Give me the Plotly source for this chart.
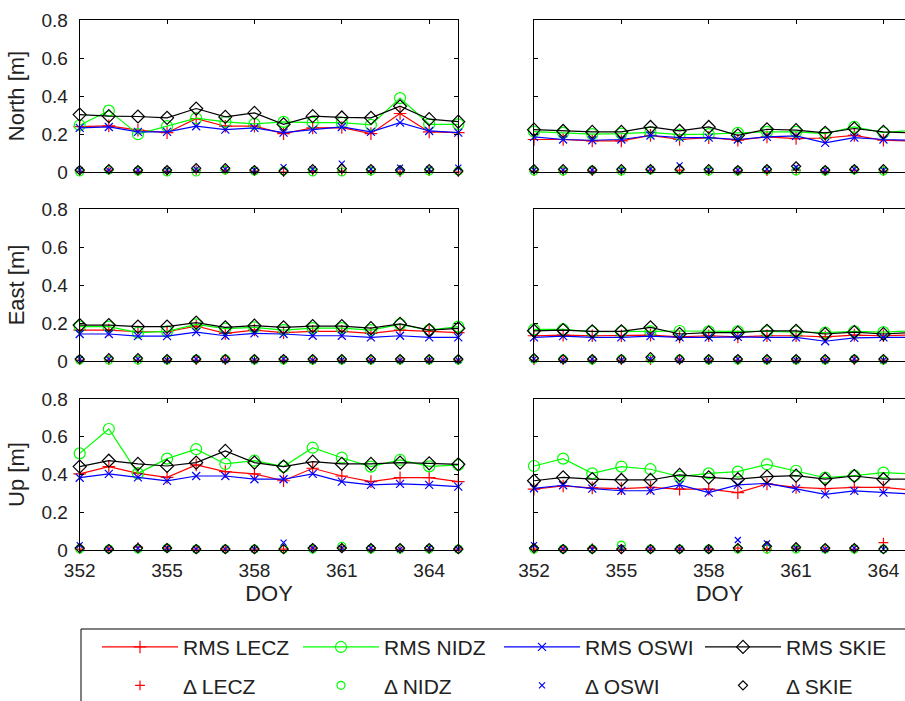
import plotly.graph_objects as go

W, H = 905, 701
days = list(range(352, 366))

# ---------------- North ----------------
N_L_RMS_LECZ = [0.239, 0.243, 0.220, 0.207, 0.281, 0.241, 0.241, 0.202, 0.232, 0.234, 0.202, 0.308, 0.211, 0.207]
N_L_RMS_NIDZ = [0.246, 0.323, 0.199, 0.241, 0.283, 0.264, 0.253, 0.264, 0.260, 0.260, 0.248, 0.389, 0.251, 0.251]
N_L_RMS_OSWI = [0.232, 0.237, 0.211, 0.211, 0.241, 0.223, 0.232, 0.207, 0.223, 0.237, 0.211, 0.260, 0.216, 0.207]
N_L_RMS_SKIE = [0.302, 0.294, 0.292, 0.285, 0.334, 0.290, 0.311, 0.251, 0.294, 0.287, 0.285, 0.346, 0.278, 0.265]
N_L_D_LECZ = [0.005, 0.010, 0.005, 0.005, 0.010, 0.010, 0.005, 0.000, 0.005, 0.005, 0.005, 0.000, 0.005, 0.000]
N_L_D_NIDZ = [0.000, 0.010, 0.005, 0.000, 0.000, 0.010, 0.005, 0.005, 0.000, 0.000, 0.005, 0.005, 0.005, 0.005]
N_L_D_OSWI = [0.010, 0.010, 0.010, 0.010, 0.015, 0.015, 0.010, 0.026, 0.015, 0.044, 0.015, 0.023, 0.015, 0.023]
N_L_D_SKIE = [0.010, 0.015, 0.010, 0.010, 0.020, 0.020, 0.010, 0.005, 0.015, 0.018, 0.015, 0.010, 0.015, 0.005]

N_R_RMS_LECZ = [0.171, 0.171, 0.164, 0.164, 0.193, 0.171, 0.181, 0.167, 0.185, 0.176, 0.179, 0.193, 0.167, 0.162]
N_R_RMS_NIDZ = [0.213, 0.206, 0.199, 0.202, 0.209, 0.197, 0.199, 0.206, 0.211, 0.211, 0.202, 0.237, 0.207, 0.220]
N_R_RMS_OSWI = [0.185, 0.171, 0.167, 0.171, 0.192, 0.181, 0.181, 0.171, 0.185, 0.190, 0.153, 0.181, 0.171, 0.167]
N_R_RMS_SKIE = [0.223, 0.216, 0.211, 0.211, 0.237, 0.216, 0.237, 0.193, 0.225, 0.220, 0.206, 0.229, 0.211, 0.206]
N_R_D_LECZ = [0.005, 0.005, 0.005, 0.005, 0.010, 0.010, 0.005, 0.005, 0.005, 0.010, 0.005, 0.010, 0.005, 0.005]
N_R_D_NIDZ = [0.005, 0.005, 0.010, 0.005, 0.010, 0.010, 0.005, 0.005, 0.010, 0.005, 0.005, 0.010, 0.005, 0.005]
N_R_D_OSWI = [0.010, 0.010, 0.010, 0.010, 0.015, 0.035, 0.010, 0.010, 0.015, 0.025, 0.010, 0.015, 0.010, 0.010]
N_R_D_SKIE = [0.015, 0.015, 0.010, 0.015, 0.015, 0.015, 0.015, 0.010, 0.015, 0.030, 0.010, 0.015, 0.015, 0.010]

# ---------------- East ----------------
E_L_RMS_LECZ = [0.163, 0.163, 0.154, 0.154, 0.184, 0.145, 0.163, 0.149, 0.156, 0.156, 0.145, 0.163, 0.156, 0.149]
E_L_RMS_NIDZ = [0.181, 0.181, 0.149, 0.156, 0.193, 0.170, 0.177, 0.163, 0.173, 0.173, 0.163, 0.193, 0.163, 0.181]
E_L_RMS_OSWI = [0.142, 0.142, 0.131, 0.131, 0.152, 0.133, 0.145, 0.142, 0.133, 0.133, 0.124, 0.133, 0.124, 0.124]
E_L_RMS_SKIE = [0.189, 0.189, 0.181, 0.181, 0.202, 0.177, 0.186, 0.177, 0.184, 0.184, 0.173, 0.195, 0.163, 0.172]
E_L_D_LECZ = [0.005, 0.005, 0.005, 0.005, 0.005, 0.005, 0.005, 0.005, 0.005, 0.005, 0.005, 0.005, 0.005, 0.005]
E_L_D_NIDZ = [0.005, 0.005, 0.005, 0.005, 0.010, 0.010, 0.005, 0.005, 0.005, 0.005, 0.005, 0.005, 0.005, 0.005]
E_L_D_OSWI = [0.010, 0.010, 0.010, 0.005, 0.010, 0.005, 0.005, 0.010, 0.005, 0.005, 0.005, 0.005, 0.005, 0.005]
E_L_D_SKIE = [0.010, 0.015, 0.015, 0.010, 0.010, 0.010, 0.010, 0.010, 0.010, 0.010, 0.010, 0.010, 0.010, 0.010]

E_R_RMS_LECZ = [0.133, 0.136, 0.133, 0.133, 0.136, 0.127, 0.133, 0.127, 0.133, 0.133, 0.127, 0.136, 0.133, 0.138]
E_R_RMS_NIDZ = [0.166, 0.166, 0.154, 0.154, 0.156, 0.158, 0.156, 0.156, 0.156, 0.154, 0.149, 0.156, 0.152, 0.159]
E_R_RMS_OSWI = [0.124, 0.131, 0.124, 0.124, 0.131, 0.124, 0.124, 0.127, 0.124, 0.124, 0.104, 0.122, 0.124, 0.124]
E_R_RMS_SKIE = [0.159, 0.163, 0.156, 0.156, 0.177, 0.142, 0.149, 0.149, 0.159, 0.159, 0.142, 0.152, 0.142, 0.150]
E_R_D_LECZ = [0.005, 0.005, 0.005, 0.005, 0.005, 0.005, 0.005, 0.005, 0.005, 0.005, 0.005, 0.005, 0.005, 0.005]
E_R_D_NIDZ = [0.010, 0.010, 0.005, 0.010, 0.010, 0.010, 0.005, 0.005, 0.005, 0.005, 0.005, 0.010, 0.005, 0.005]
E_R_D_OSWI = [0.010, 0.005, 0.010, 0.005, 0.010, 0.005, 0.005, 0.010, 0.005, 0.005, 0.005, 0.010, 0.005, 0.005]
E_R_D_SKIE = [0.015, 0.010, 0.010, 0.010, 0.020, 0.010, 0.010, 0.010, 0.010, 0.010, 0.010, 0.010, 0.010, 0.010]

# ---------------- Up ----------------
U_L_RMS_LECZ = [0.403, 0.442, 0.406, 0.385, 0.451, 0.415, 0.403, 0.367, 0.433, 0.392, 0.362, 0.383, 0.383, 0.362]
U_L_RMS_NIDZ = [0.512, 0.641, 0.406, 0.484, 0.534, 0.456, 0.473, 0.442, 0.542, 0.489, 0.442, 0.477, 0.443, 0.450]
U_L_RMS_OSWI = [0.383, 0.403, 0.385, 0.366, 0.392, 0.392, 0.375, 0.375, 0.403, 0.362, 0.345, 0.350, 0.345, 0.336]
U_L_RMS_SKIE = [0.442, 0.473, 0.456, 0.445, 0.463, 0.525, 0.463, 0.442, 0.468, 0.456, 0.456, 0.463, 0.459, 0.454]
U_L_D_LECZ = [0.005, 0.005, 0.015, 0.010, 0.005, 0.005, 0.005, 0.005, 0.010, 0.010, 0.005, 0.005, 0.005, 0.005]
U_L_D_NIDZ = [0.005, 0.005, 0.005, 0.010, 0.005, 0.005, 0.005, 0.005, 0.005, 0.020, 0.005, 0.005, 0.005, 0.005]
U_L_D_OSWI = [0.026, 0.005, 0.010, 0.010, 0.005, 0.005, 0.005, 0.039, 0.010, 0.010, 0.010, 0.005, 0.010, 0.005]
U_L_D_SKIE = [0.010, 0.005, 0.010, 0.010, 0.005, 0.005, 0.005, 0.005, 0.010, 0.010, 0.010, 0.010, 0.010, 0.005]

U_R_RMS_LECZ = [0.322, 0.339, 0.329, 0.325, 0.332, 0.322, 0.322, 0.304, 0.350, 0.332, 0.325, 0.332, 0.332, 0.318]
U_R_RMS_NIDZ = [0.445, 0.484, 0.406, 0.442, 0.428, 0.389, 0.406, 0.415, 0.454, 0.420, 0.383, 0.394, 0.410, 0.403]
U_R_RMS_OSWI = [0.327, 0.343, 0.325, 0.314, 0.314, 0.345, 0.304, 0.345, 0.353, 0.325, 0.295, 0.313, 0.304, 0.297]
U_R_RMS_SKIE = [0.367, 0.385, 0.376, 0.371, 0.371, 0.398, 0.385, 0.375, 0.389, 0.394, 0.376, 0.392, 0.375, 0.375]
U_R_D_LECZ = [0.005, 0.005, 0.010, 0.005, 0.005, 0.005, 0.005, 0.010, 0.005, 0.010, 0.005, 0.005, 0.039, 0.005]
U_R_D_NIDZ = [0.005, 0.005, 0.005, 0.026, 0.005, 0.005, 0.005, 0.005, 0.005, 0.005, 0.005, 0.005, 0.005, 0.005]
U_R_D_OSWI = [0.026, 0.005, 0.005, 0.010, 0.005, 0.005, 0.005, 0.053, 0.035, 0.010, 0.005, 0.010, 0.005, 0.005]
U_R_D_SKIE = [0.010, 0.005, 0.005, 0.005, 0.005, 0.005, 0.005, 0.010, 0.020, 0.015, 0.010, 0.010, 0.005, 0.005]

stations = ["LECZ", "NIDZ", "OSWI", "SKIE"]
colors = ["#ff0000", "#00ff00", "#0000ff", "#000000"]
symbols = ["cross-thin", "circle-open", "x-thin", "diamond-open"]
rms_sizes = [9, 11, 8, 10]
d_sizes = [7, 8, 6, 7]

y_titles = ["North [m]", "East [m]", "Up [m]"]
panels = [
    (0, 0, [N_L_RMS_LECZ, N_L_RMS_NIDZ, N_L_RMS_OSWI, N_L_RMS_SKIE], [N_L_D_LECZ, N_L_D_NIDZ, N_L_D_OSWI, N_L_D_SKIE]),
    (0, 1, [N_R_RMS_LECZ, N_R_RMS_NIDZ, N_R_RMS_OSWI, N_R_RMS_SKIE], [N_R_D_LECZ, N_R_D_NIDZ, N_R_D_OSWI, N_R_D_SKIE]),
    (1, 0, [E_L_RMS_LECZ, E_L_RMS_NIDZ, E_L_RMS_OSWI, E_L_RMS_SKIE], [E_L_D_LECZ, E_L_D_NIDZ, E_L_D_OSWI, E_L_D_SKIE]),
    (1, 1, [E_R_RMS_LECZ, E_R_RMS_NIDZ, E_R_RMS_OSWI, E_R_RMS_SKIE], [E_R_D_LECZ, E_R_D_NIDZ, E_R_D_OSWI, E_R_D_SKIE]),
    (2, 0, [U_L_RMS_LECZ, U_L_RMS_NIDZ, U_L_RMS_OSWI, U_L_RMS_SKIE], [U_L_D_LECZ, U_L_D_NIDZ, U_L_D_OSWI, U_L_D_SKIE]),
    (2, 1, [U_R_RMS_LECZ, U_R_RMS_NIDZ, U_R_RMS_OSWI, U_R_RMS_SKIE], [U_R_D_LECZ, U_R_D_NIDZ, U_R_D_OSWI, U_R_D_SKIE]),
]

FONT = "Liberation Sans, Arial, Helvetica, sans-serif"
TXT = "#222222"

# panel geometry (pixels)
x_dom = [[79.7 / W, 458.3 / W], [534.0 / W, 1.0]]
px_per_day = 29.12
x_rng = [[352, 365], [352, 352 + (W - 534.0) / px_per_day]]
rows_px = [(20, 172), (209, 361), (399, 550)]
y_dom = [[1 - b / H, 1 - t / H] for (t, b) in rows_px]

fig = go.Figure()
layout = dict(
    width=W, height=H, margin=dict(l=0, r=0, t=0, b=0, autoexpand=False),
    paper_bgcolor="white", plot_bgcolor="white",
    font=dict(family=FONT, color=TXT, size=19),
)

for (r, c, rms, dd) in panels:
    k = r * 2 + c + 1
    xa = "x" if k == 1 else f"x{k}"
    ya = "y" if k == 1 else f"y{k}"
    first = (k == 1)
    for i in range(4):
        fig.add_trace(go.Scatter(
            x=days, y=rms[i], xaxis=xa, yaxis=ya, mode="lines+markers",
            name=f"RMS {stations[i]}", legend="legend", showlegend=first,
            line=dict(color=colors[i], width=1.2),
            marker=dict(symbol=symbols[i], size=rms_sizes[i], color=colors[i],
                        line=dict(color=colors[i], width=1.2)),
            cliponaxis=False, hoverinfo="skip"))
    for i in range(4):
        fig.add_trace(go.Scatter(
            x=days, y=dd[i], xaxis=xa, yaxis=ya, mode="markers",
            name=f"\u0394 {stations[i]}", legend="legend2", showlegend=first,
            marker=dict(symbol=symbols[i], size=d_sizes[i], color=colors[i],
                        line=dict(color=colors[i], width=1.2)),
            cliponaxis=False, hoverinfo="skip"))

    xkey = "xaxis" if k == 1 else f"xaxis{k}"
    ykey = "yaxis" if k == 1 else f"yaxis{k}"
    layout[xkey] = dict(
        domain=x_dom[c], range=x_rng[c], anchor=ya,
        tickmode="array", tickvals=[352, 355, 358, 361, 364],
        ticks="inside", ticklen=4, tickcolor="black", tickwidth=1,
        showline=True, linecolor="black", linewidth=1, mirror="ticks",
        showgrid=False, zeroline=False,
        showticklabels=(r == 2), ticklabelstandoff=3,
        tickfont=dict(size=19, color=TXT, family=FONT),
        title=dict(text="DOY" if r == 2 else "", font=dict(size=22, color=TXT, family=FONT), standoff=4),
    )
    layout[ykey] = dict(
        domain=y_dom[r], range=[0, 0.8], anchor=xa,
        tickmode="array", tickvals=[0, 0.2, 0.4, 0.6, 0.8],
        ticktext=["0", "0.2", "0.4", "0.6", "0.8"],
        ticks="inside", ticklen=4, tickcolor="black", tickwidth=1,
        showline=True, linecolor="black", linewidth=1,
        mirror="ticks" if c == 0 else False,
        showgrid=False, zeroline=False,
        showticklabels=(c == 0), ticklabelstandoff=7,
        tickfont=dict(size=19, color=TXT, family=FONT),
        title=dict(text=y_titles[r] if c == 0 else "", font=dict(size=22, color=TXT, family=FONT), standoff=10),
    )

leg_common = dict(
    orientation="h", xanchor="left", yanchor="middle",
    entrywidth=110, entrywidthmode="pixels", itemwidth=76,
    font=dict(size=21, color=TXT, family=FONT),
    bgcolor="rgba(0,0,0,0)", borderwidth=0,
    itemclick=False, itemdoubleclick=False,
)
layout["legend"] = dict(leg_common, x=97 / W, y=1 - 647.3 / H)
layout["legend2"] = dict(leg_common, x=97 / W, y=1 - 685.7 / H)
layout["shapes"] = [dict(type="rect", xref="paper", yref="paper",
                         x0=81 / W, x1=1.05, y0=-0.05, y1=1 - 629 / H,
                         line=dict(color="black", width=1), fillcolor="rgba(0,0,0,0)")]

fig.update_layout(**layout)
fig.write_html("out.html")
